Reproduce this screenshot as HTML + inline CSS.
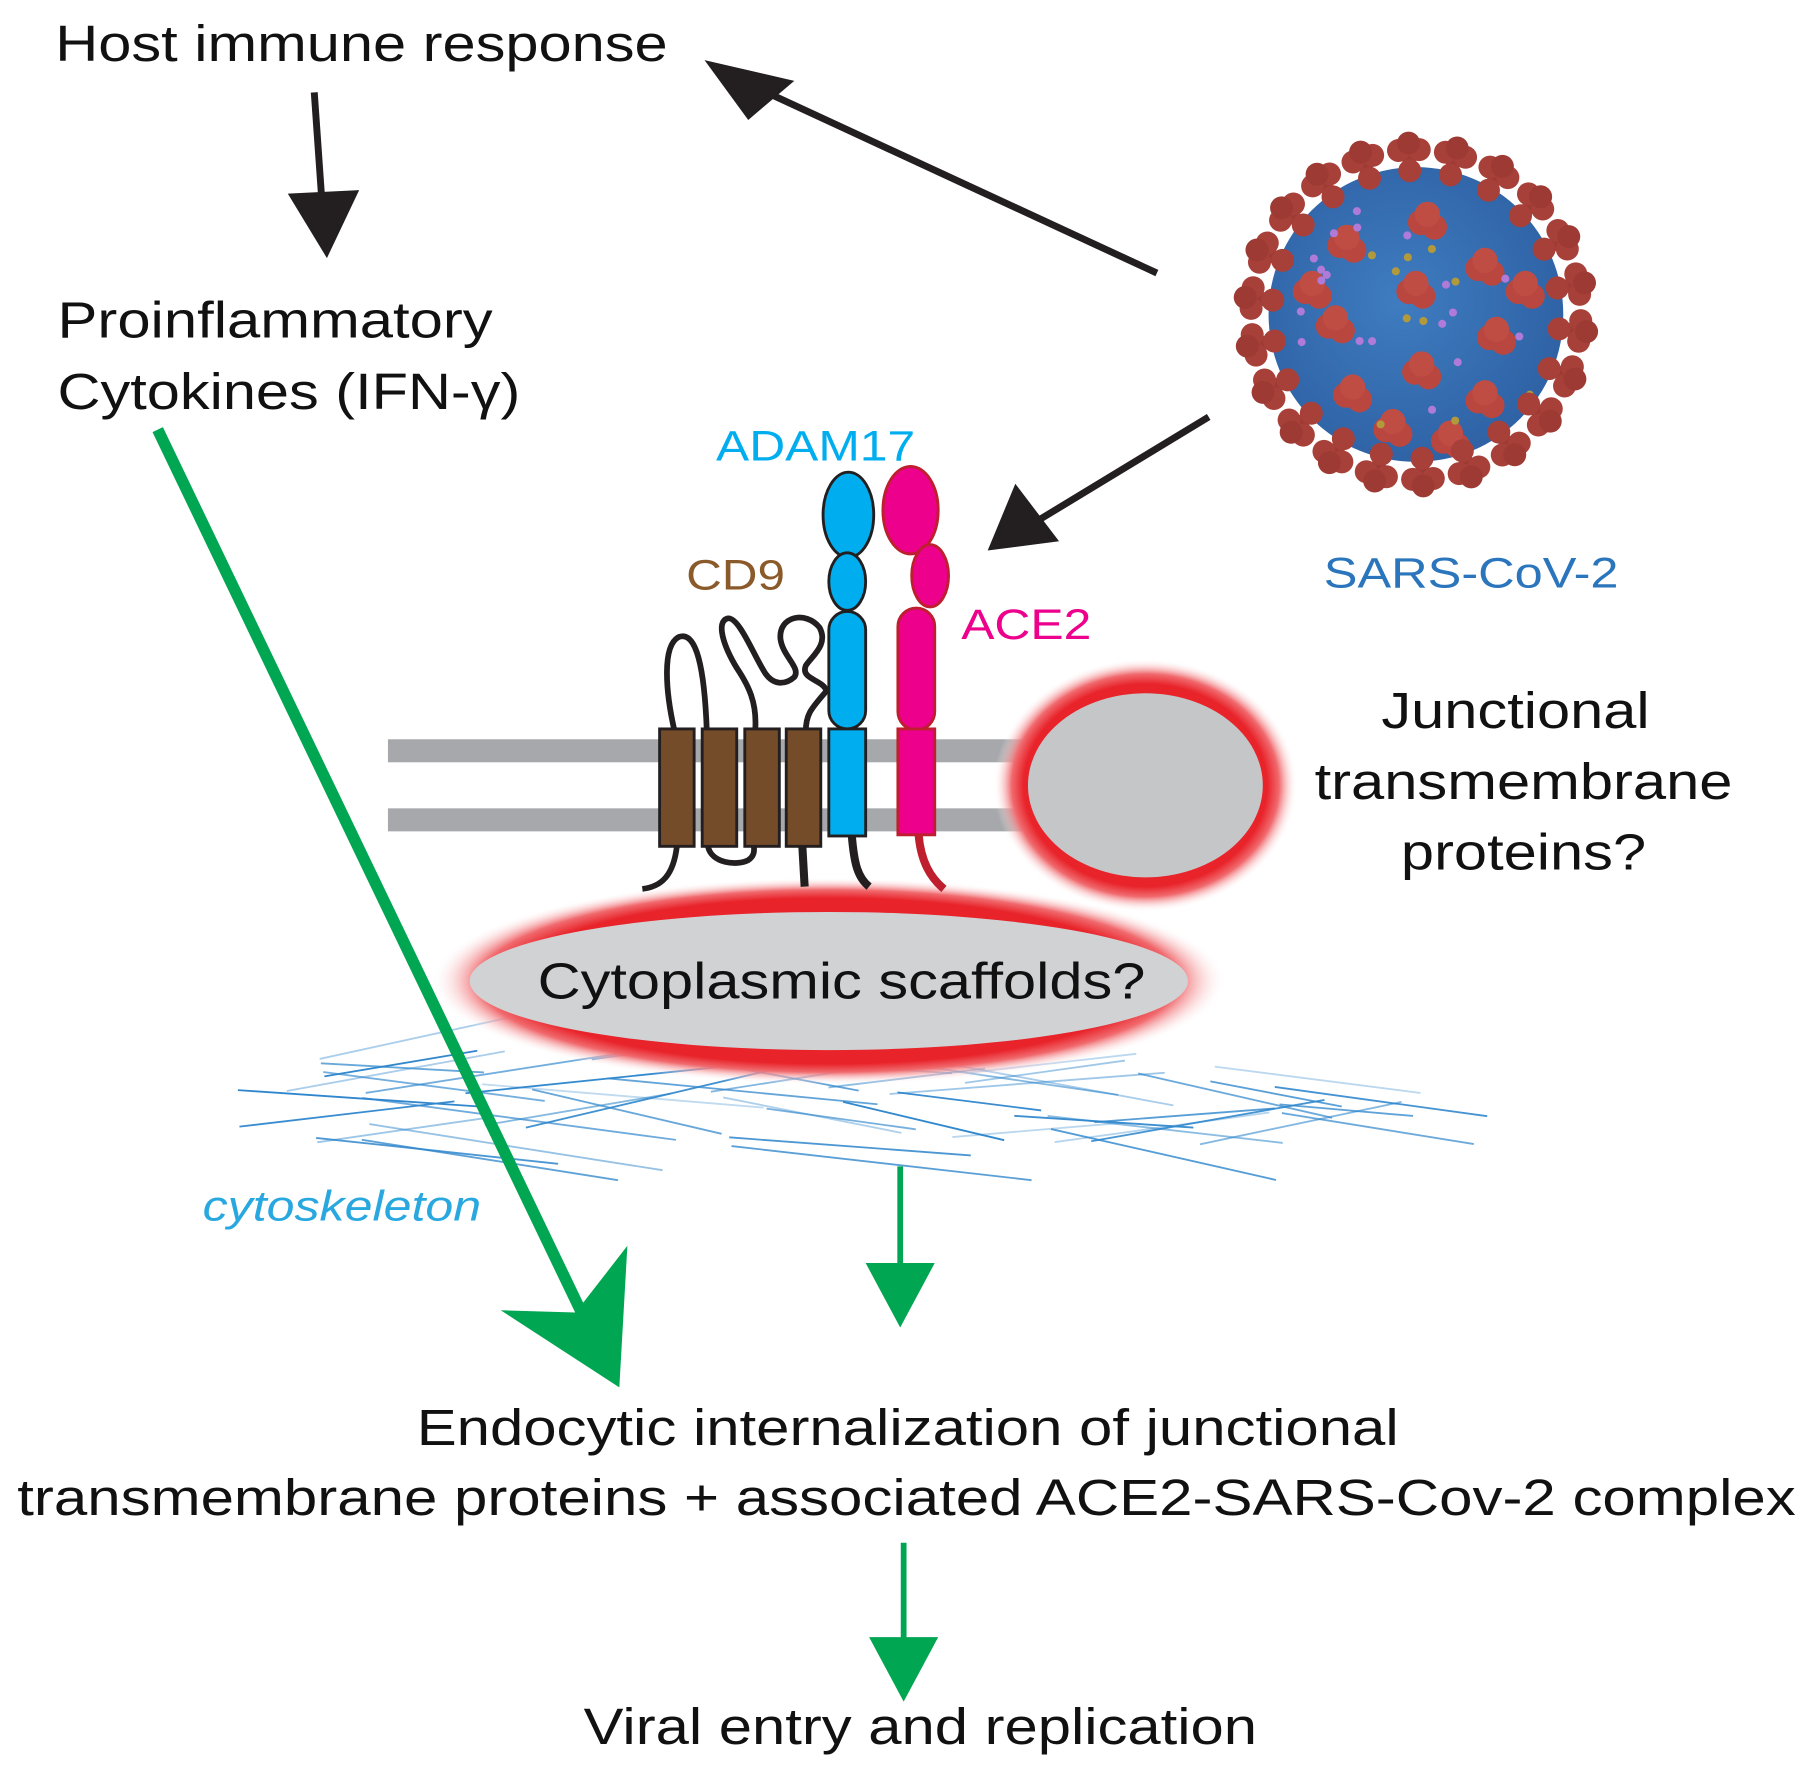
<!DOCTYPE html>
<html><head><meta charset="utf-8"><style>
html,body{margin:0;padding:0;background:#fff;}
svg{display:block;}
text{font-family:"Liberation Sans",Arial,sans-serif;}
</style></head><body>
<svg id="s" width="1805" height="1779" viewBox="0 0 1568 1545" xmlns="http://www.w3.org/2000/svg">
<defs>
<radialGradient id="glow" cx="50%" cy="50%" r="50%">
<stop offset="0.80" stop-color="#e8232a"/>
<stop offset="0.88" stop-color="#f06a6e"/>
<stop offset="1" stop-color="#ffffff" stop-opacity="0"/>
</radialGradient>
<radialGradient id="vb" cx="45%" cy="45%" r="55%">
<stop offset="0" stop-color="#3f7cc0"/>
<stop offset="1" stop-color="#2f63a6"/>
</radialGradient>
</defs>
<g id="cyto" stroke="#2e86cc" stroke-width="1.6" fill="none"></g>

<rect x="337" y="642" width="560" height="20" fill="#a6a8ab"/>
<rect x="337" y="702" width="560" height="20" fill="#a6a8ab"/>

<ellipse cx="995" cy="682" rx="132" ry="110" fill="url(#glow)"/>
<ellipse cx="995" cy="682" rx="102" ry="80" fill="#c5c6c8"/>

<ellipse cx="720" cy="852" rx="345" ry="90" fill="url(#glow)"/>
<ellipse cx="720" cy="852" rx="312" ry="60" fill="#d1d2d4"/>
<text x="467" y="867" font-size="44" textLength="528" lengthAdjust="spacingAndGlyphs" fill="#111">Cytoplasmic scaffolds?</text>

<g fill="none" stroke="#231f20" stroke-width="5">
<path d="M586 635 C578 600 575 560 590 553 C605 548 612 580 614 635"/>
<path d="M656 635 C658 610 650 595 640 580 C628 560 622 540 632 537 C642 535 655 570 665 585 C672 595 682 595 690 588 C696 580 680 570 678 555 C676 535 700 530 712 545 C720 560 705 570 700 578 C695 590 715 590 718 600 C705 615 700 620 700 635"/>
<path d="M588 735 C585 760 575 770 558 772"/>
<path d="M615 735 C618 750 640 752 650 747 C656 743 655 738 655 735"/>
<path d="M697 735 L699 770" stroke-width="7"/>
<path d="M740 726 C742 750 745 762 755 770" stroke-width="7"/>
</g>
<path d="M798 725 C800 748 808 762 820 772" fill="none" stroke="#be1e2d" stroke-width="7"/>
<g stroke="#231f20" stroke-width="2.5" fill="#754c29">
<rect x="573" y="633" width="30" height="102"/>
<rect x="610" y="633" width="30" height="102"/>
<rect x="647" y="633" width="30" height="102"/>
<rect x="683" y="633" width="30" height="102"/>
</g>
<g stroke="#231f20" stroke-width="2.5" fill="#00aeef">
<ellipse cx="737" cy="447" rx="22" ry="37"/>
<ellipse cx="736" cy="505" rx="16" ry="25"/>
<rect x="720" y="531" width="32" height="102" rx="16"/>
<rect x="720" y="633" width="32" height="93"/>
</g>
<g stroke="#be1e2d" stroke-width="2.5" fill="#ec008c">
<ellipse cx="791" cy="443" rx="24" ry="38"/>
<ellipse cx="808" cy="500" rx="16" ry="27"/>
<rect x="780" y="528" width="32" height="106" rx="16"/>
<rect x="780" y="633" width="32" height="92"/>
</g>

<g id="virus"></g>

<g fill="#111" font-size="44">
<text x="48" y="53" textLength="532" lengthAdjust="spacingAndGlyphs">Host immune response</text>
<text x="50" y="293" textLength="378" lengthAdjust="spacingAndGlyphs">Proinflammatory</text>
<text x="50" y="355" textLength="402" lengthAdjust="spacingAndGlyphs">Cytokines (IFN-γ)</text>
<text x="1200" y="632" textLength="233" lengthAdjust="spacingAndGlyphs">Junctional</text>
<text x="1142" y="694" textLength="363" lengthAdjust="spacingAndGlyphs">transmembrane</text>
<text x="1217" y="755" textLength="213" lengthAdjust="spacingAndGlyphs">proteins?</text>
<text x="362" y="1255" textLength="853" lengthAdjust="spacingAndGlyphs">Endocytic internalization of junctional</text>
<text x="15" y="1316" textLength="1545" lengthAdjust="spacingAndGlyphs">transmembrane proteins + associated ACE2-SARS-Cov-2 complex</text>
<text x="507" y="1515" textLength="585" lengthAdjust="spacingAndGlyphs">Viral entry and replication</text>
</g>
<g font-size="37">
<text x="622" y="400" textLength="173" lengthAdjust="spacingAndGlyphs" fill="#00aeef">ADAM17</text>
<text x="596" y="512" textLength="86" lengthAdjust="spacingAndGlyphs" fill="#8b5a2b">CD9</text>
<text x="835" y="555" textLength="113" lengthAdjust="spacingAndGlyphs" fill="#ec008c">ACE2</text>
<text x="1150" y="510" textLength="256" lengthAdjust="spacingAndGlyphs" fill="#2a75bb">SARS-CoV-2</text>
<text x="176" y="1060" textLength="242" lengthAdjust="spacingAndGlyphs" font-style="italic" fill="#29a8e0">cytoskeleton</text>
</g>

<g stroke="#231f20" stroke-width="6" fill="#231f20">
<line x1="273" y1="80" x2="280" y2="180"/>
<polygon points="250,168 312,165 284,224" stroke="none"/>
<line x1="1005" y1="237" x2="655" y2="75"/>
<polygon points="612,52 690,70 650,104" stroke="none"/>
<line x1="1050" y1="362" x2="900" y2="453"/>
<polygon points="858,478 882,420 920,470" stroke="none"/>
</g>
<g stroke="#00a651" fill="#00a651">
<line x1="137" y1="373" x2="510" y2="1150" stroke-width="10"/>
<polygon points="538,1205 435,1138 500,1140 545,1082" stroke="none"/>
<line x1="782" y1="1013" x2="782" y2="1120" stroke-width="5"/>
<polygon points="752,1097 812,1097 782,1153" stroke="none"/>
<line x1="785" y1="1340" x2="785" y2="1450" stroke-width="5"/>
<polygon points="755,1422 815,1422 785,1478" stroke="none"/>
</g>
</svg>
<script>
var NS="http://www.w3.org/2000/svg";
function el(t,a,p){var e=document.createElementNS(NS,t);for(var k in a)e.setAttribute(k,a[k]);p.appendChild(e);return e;}
var c=document.getElementById("cyto");
var seed=7;function r(){seed=(seed*9301+49297)%233280;return seed/233280;}
for(var i=0;i<50;i++){
 var x=200+r()*950,y=918+r()*80,len=110+r()*170,ang=(r()<0.5?1:-1)*(0.05+r()*0.2);
 var x2=x+len,y2=y+len*ang;if(x2>1310)x2=1310;if(y2>1025)y2=1025;
 el("line",{x1:x,y1:y,x2:x2,y2:y2,opacity:(0.3+r()*0.7).toFixed(2)},c);
}
var v=document.getElementById("virus");var cx=1230,cy=273;
for(var i=0;i<22;i++){var a=i/22*Math.PI*2+0.1;
 var x=cx+Math.cos(a)*143,y=cy+Math.sin(a)*143;
 el("line",{x1:cx+Math.cos(a)*115,y1:cy+Math.sin(a)*115,x2:x,y2:y,stroke:"#9c3a33","stroke-width":12},v);
 var px=-Math.sin(a),py=Math.cos(a);
 el("circle",{cx:x+px*9,cy:y+py*9,r:10,fill:"#a8403a"},v);
 el("circle",{cx:x-px*9,cy:y-py*9,r:10,fill:"#a8403a"},v);
 el("circle",{cx:x+Math.cos(a)*6,cy:y+Math.sin(a)*6,r:10,fill:"#9c3a33"},v);}
el("circle",{cx:cx,cy:cy,r:128,fill:"url(#vb)"},v);
var pts=[[-60,-60],[10,-80],[60,-40],[-70,10],[0,-20],[70,20],[-55,70],[5,50],[60,75],[-20,100],[30,110],[-90,-20],[95,-20]];
pts.forEach(function(p){el("circle",{cx:cx+p[0]-6,cy:cy+p[1],r:11,fill:"#b9473f"},v);el("circle",{cx:cx+p[0]+6,cy:cy+p[1]+4,r:11,fill:"#b9473f"},v);el("circle",{cx:cx+p[0],cy:cy+p[1]-7,r:11,fill:"#c04d44"},v);});
for(var i=0;i<30;i++){el("circle",{cx:cx-100+r()*200,cy:cy-100+r()*200,r:3.5,fill:r()<0.5?"#b07bd8":"#b29a3c"},v);}
for(var i=0;i<22;i++){var a=i/22*Math.PI*2+0.1;
 el("circle",{cx:cx+Math.cos(a)*125,cy:cy+Math.sin(a)*125,r:10,fill:"#a8403a"},v);}
</script>
</body></html>
